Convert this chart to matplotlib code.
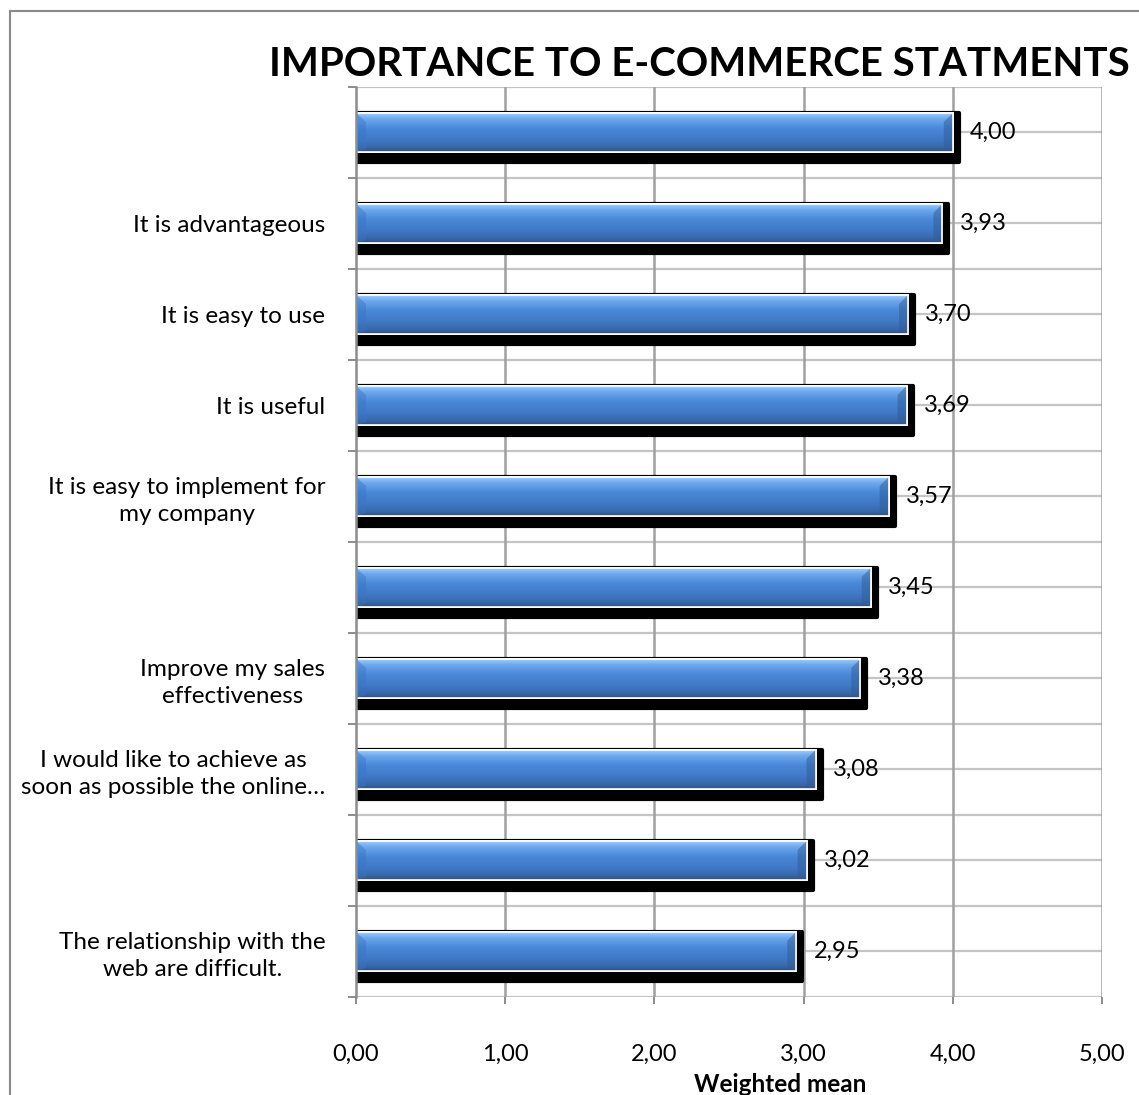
import numpy as np
import matplotlib
matplotlib.use("Agg")
import matplotlib.pyplot as plt
from matplotlib.patches import Polygon
from matplotlib.lines import Line2D
from matplotlib.colors import LinearSegmentedColormap

# ---- data -------------------------------------------------------------
categories = [
    "",
    "It is advantageous",
    "It is easy to use",
    "It is useful",
    "It is easy to implement for\nmy company",
    "",
    "Improve my sales\neffectiveness",
    "I would like to achieve as\nsoon as possible the online…",
    "",
    "The relationship with the\nweb are difficult.",
]
values = [4.00, 3.93, 3.70, 3.69, 3.57, 3.45, 3.38, 3.08, 3.02, 2.95]
x_ticks = [0, 1, 2, 3, 4, 5]
x_tick_labels = ["0,00", "1,00", "2,00", "3,00", "4,00", "5,00"]
title = "IMPORTANCE TO E-COMMERCE STATMENTS"
x_label = "Weighted mean"

# ---- figure / axes geometry (pixels) ---------------------------------
W, H, DPI = 1139, 1095, 100
plt.rcParams['font.family'] = ['Lato', 'DejaVu Sans']

fig = plt.figure(figsize=(W / DPI, H / DPI), dpi=DPI)
L, R, T, B = 356, 1102, 87, 997
ax = fig.add_axes([L / W, 1 - B / H, (R - L) / W, (B - T) / H])

n = len(categories)
ypos = np.arange(n)
xmin, xmax = x_ticks[0], x_ticks[-1]

px_x = (R - L) / (xmax - xmin)   # pixels per value unit
px_y = (B - T) / n               # pixels per category


def dx(p):
    return p / px_x


def dy(p):
    return p / px_y


# ---- grid lines --------------------------------------------------------
for yb in np.arange(-0.5, n, 1.0):
    ax.axhline(yb, color='#c4c4c4', lw=1.6, zorder=0.5)
for yc in ypos:
    ax.axhline(yc, color='#c4c4c4', lw=1.6, zorder=0.5)
for xv in x_ticks[1:]:
    ax.axvline(xv, color='#a0a0a0', lw=1.8, zorder=0.6)

# ---- bars --------------------------------------------------------------
bar_h = 0.43

# drop shadow: same bar, pushed down and to the right, rounded corners
ax.barh(ypos + dy(5), [v + dx(6) for v in values], height=bar_h + dy(9),
        color='black', edgecolor='black', lw=3, joinstyle='round',
        zorder=2)

bars = ax.barh(ypos, values, height=bar_h, color='#4a86d4',
               edgecolor='white', lw=1.3, zorder=3)

grad_cmap = LinearSegmentedColormap.from_list('bar', [
    (0.00, '#d6e7f9'),
    (0.05, '#9ac7f5'),
    (0.16, '#70aaee'),
    (0.40, '#4a89d9'),
    (0.70, '#3f78c5'),
    (0.88, '#3868aa'),
    (1.00, '#2d5286'),
])
grad = np.linspace(0, 1, 256).reshape(-1, 1)

for p in bars:
    x0, w = p.get_x(), p.get_width()
    y0, h = p.get_y(), p.get_height()
    yt, yb = y0, y0 + h          # top / bottom on screen (inverted axis)
    im = ax.imshow(grad, cmap=grad_cmap, aspect='auto',
                   extent=(x0, x0 + w, yb, yt), origin='upper',
                   interpolation='bilinear', zorder=3.2)
    im.set_clip_path(p)
    # bevelled ends
    left = Polygon([(x0, yt), (x0 + dx(10), yt + dy(9)),
                    (x0 + dx(10), yb - dy(3)), (x0, yb)],
                   closed=True, facecolor='#3a74c4', edgecolor='none',
                   alpha=0.45, zorder=3.3)
    right = Polygon([(x0 + w, yt), (x0 + w - dx(9), yt + dy(9)),
                     (x0 + w - dx(9), yb - dy(3)), (x0 + w, yb)],
                    closed=True, facecolor='#2f5c9a', edgecolor='none',
                    alpha=0.5, zorder=3.3)
    ax.add_patch(left)
    ax.add_patch(right)
    ax.add_patch(plt.Rectangle((x0, y0), w, h, facecolor='none',
                               edgecolor='white', lw=1.2, zorder=3.4))

# value labels
for yc, v in zip(ypos, values):
    ax.annotate(f"{v:.2f}".replace('.', ','), xy=(v, yc), xytext=(12.5, 0),
                textcoords='offset points', ha='left', va='center',
                fontsize=17, color='black', zorder=5)

ax.set_xlim(xmin, xmax)
ax.set_ylim(n - 0.5, -0.5)

# ---- axes styling ------------------------------------------------------
for side in ('top', 'right', 'bottom'):
    ax.spines[side].set_visible(False)
ax.spines['left'].set_color('#8c8c8c')
ax.spines['left'].set_linewidth(1.8)
ax.spines['left'].set_zorder(4)

ax.set_xticks(x_ticks)
ax.set_xticklabels(x_tick_labels, fontsize=17)
ax.tick_params(axis='x', length=5, width=1.4, color='#8c8c8c', pad=29)

ax.set_yticks(ypos)
ax.set_yticklabels(categories, fontsize=17.5, multialignment='center',
                   linespacing=1.35)
ax.set_yticks(np.arange(-0.5, n, 1.0), minor=True)
ax.tick_params(axis='y', which='major', length=0, pad=22)
ax.tick_params(axis='y', which='minor', length=6, width=1.4,
               color='#8c8c8c', direction='out')

# ---- titles ------------------------------------------------------------
fig.text(699.5 / W, 1 - 64 / H, title, ha='center', va='center',
         fontsize=29, fontweight='bold', color='black')
fig.text(780 / W, 1 - 1085 / H, x_label, ha='center', va='center',
         fontsize=17.5, fontweight='bold', color='black')

# ---- chart border ------------------------------------------------------
fig.add_artist(Line2D([9.5 / W, 9.5 / W], [0, 1 - 11 / H],
                      transform=fig.transFigure, color='#8a8a8a', lw=1.5))
fig.add_artist(Line2D([9.5 / W, 1], [1 - 11 / H, 1 - 11 / H],
                      transform=fig.transFigure, color='#8a8a8a', lw=1.5))

fig.savefig('out.png', dpi=DPI)
